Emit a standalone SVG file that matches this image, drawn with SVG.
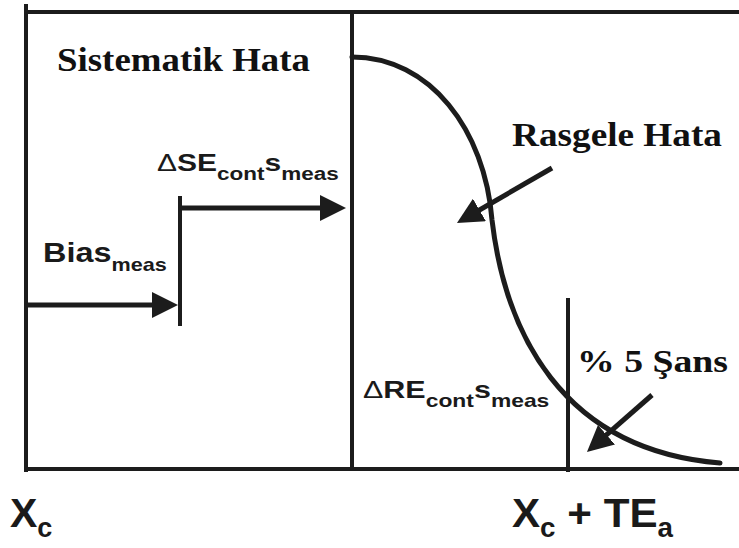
<svg xmlns="http://www.w3.org/2000/svg" width="739" height="548" viewBox="0 0 739 548">
  <style>
    .ln{stroke:#1c1c1c;stroke-width:4;fill:none;stroke-linecap:square}
    .arr{stroke:#1c1c1c;stroke-width:5;fill:none;marker-end:url(#ah)}
    .curve{stroke:#1c1c1c;stroke-width:5;fill:none;stroke-linecap:round}
    .serif{font-family:"Liberation Serif","Times New Roman",serif;font-weight:bold;fill:#111}
    .sans{font-family:"Liberation Sans",Arial,sans-serif;font-weight:bold;fill:#1a1a1a}
    .delta{font-weight:normal}
  </style>
  <defs>
    <marker id="ah" viewBox="0 0 26 26" refX="10" refY="13" markerWidth="26" markerHeight="26" markerUnits="userSpaceOnUse" orient="auto">
      <path d="M0,0 L26,13 L0,26 z" fill="#1c1c1c"/>
    </marker>
  </defs>
  <rect width="739" height="548" fill="#fff"/>

  <g id="frame">
    <line class="ln" x1="26" y1="6" x2="26" y2="470"/>
    <line class="ln" x1="26" y1="12" x2="739" y2="12"/>
    <line class="ln" x1="26" y1="469" x2="739" y2="469"/>
    <line class="ln" x1="352" y1="12" x2="352" y2="469"/>
    <line class="ln" x1="568" y1="300" x2="568" y2="470"/>
  </g>

  <g id="step">
    <line class="ln" x1="180" y1="198" x2="180" y2="324"/>
  </g>

  <g id="curve">
    <path class="curve" d="M352,57 C430,57 485,130 492,220 C505,330 560,450 720,463"/>
  </g>

  <g id="connectors">
    <line class="arr" x1="26" y1="305" x2="162" y2="305"/>
    <line class="arr" x1="180" y1="208" x2="330" y2="208"/>
    <line class="arr" x1="552" y1="168" x2="470.8" y2="215"/>
    <line class="arr" x1="652" y1="395" x2="599" y2="441.4"/>
  </g>

  <g id="label-sistematik">
    <text class="serif" x="57" y="71" font-size="33" textLength="253" lengthAdjust="spacingAndGlyphs">Sistematik Hata</text>
  </g>
  <g id="label-rasgele">
    <text class="serif" x="512" y="146" font-size="33" textLength="210" lengthAdjust="spacingAndGlyphs">Rasgele Hata</text>
  </g>
  <g id="label-sans">
    <text class="serif" x="577" y="372" font-size="31" textLength="151" lengthAdjust="spacingAndGlyphs">% 5 Şans</text>
  </g>

  <g id="label-dse">
    <text class="sans" transform="translate(157,171) scale(1.25,1)" font-size="24"><tspan class="delta">Δ</tspan>SE<tspan font-size="18" dy="9">cont</tspan><tspan dy="-9">s</tspan><tspan font-size="18" dy="9">meas</tspan></text>
  </g>
  <g id="label-bias">
    <text class="sans" transform="translate(43,262) scale(1.2,1)" font-size="27">Bias<tspan font-size="18" dy="9">meas</tspan></text>
  </g>
  <g id="label-dre">
    <text class="sans" transform="translate(363,398) scale(1.27,1)" font-size="24"><tspan class="delta">Δ</tspan>RE<tspan font-size="18" dy="9">cont</tspan><tspan dy="-9">s</tspan><tspan font-size="18" dy="9">meas</tspan></text>
  </g>
  <g id="label-xc">
    <text class="sans" x="10" y="527" font-size="41">X<tspan font-size="27" dy="10">c</tspan></text>
  </g>
  <g id="label-xcte">
    <text class="sans" x="512" y="527" font-size="41" textLength="161" lengthAdjust="spacingAndGlyphs">X<tspan font-size="27" dy="10">c</tspan><tspan dy="-10"> + TE</tspan><tspan font-size="27" dy="10">a</tspan></text>
  </g>
</svg>
